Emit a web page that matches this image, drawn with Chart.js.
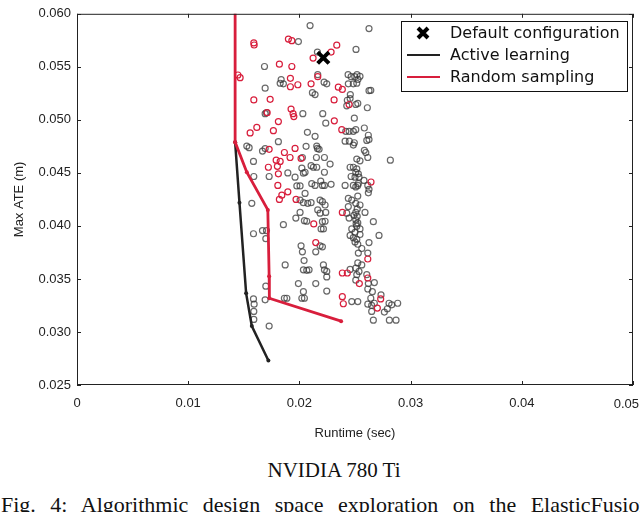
<!DOCTYPE html>
<html>
<head>
<meta charset="utf-8">
<script src="https://cdn.jsdelivr.net/npm/chart.js@4/dist/chart.umd.min.js"></script>
<style>
  body { margin: 0; width: 640px; height: 512px; overflow: hidden; background: #fff; }
  #wrap { position: absolute; left: 0; top: 0; width: 660px; height: 445px; }
  .cap { position: absolute; font-family: "Liberation Serif", serif; font-size: 21px; color: #111; white-space: nowrap; }
</style>
</head>
<body>
<div id="wrap"><canvas id="chart"></canvas></div>
<div class="cap" style="left:0; width:668px; top:458px; text-align:center;">NVIDIA 780 Ti</div>
<div class="cap" style="left:1px; top:492px; font-size:22px; word-spacing:9px;">Fig. 4: Algorithmic design space exploration on the ElasticFusion pipeline</div>
<script>
// axis ticks
const xTicks = [0, 0.01, 0.02, 0.03, 0.04, 0.05]
const yTicks = [0.025, 0.030, 0.035, 0.040, 0.045, 0.050, 0.055, 0.060]

// default configuration (runtime, max ATE)
const defaultConfig = [[0.02215, 0.05586]]

// pareto fronts
const activeFront = [[0.01422, 0.0479], [0.01461, 0.04219], [0.01521, 0.03364], [0.01572, 0.03056], [0.01721, 0.02731]]
const randomFront = [[0.01422, 0.0615], [0.01422, 0.0479], [0.01527, 0.04506], [0.01716, 0.04151], [0.01728, 0.03525], [0.01730, 0.03318], [0.02375, 0.03102]]

// sampled configurations, active learning (gray)
const activeSamples = [
  [0.02096,0.05889],[0.02626,0.05861],[0.01991,0.05738],[0.02509,0.05664],[0.02162,0.05639],[0.01686,0.05503],[0.02165,0.05426],[0.02438,0.05426],
  [0.02465,0.05407],[0.02498,0.05407],[0.02518,0.05426],[0.02545,0.05410],[0.02527,0.05382],[0.01836,0.05380],[0.01827,0.05345],[0.01856,0.05340],
  [0.02222,0.05355],[0.02246,0.05340],[0.02440,0.05340],[0.02485,0.05340],[0.02516,0.05345],[0.01692,0.05299],[0.02117,0.05256],[0.02141,0.05238],
  [0.02458,0.05238],[0.02626,0.05275],[0.02642,0.05278],[0.02431,0.05185],[0.02456,0.05201],[0.02426,0.05132],[0.02507,0.05145],[0.02525,0.05155],
  [0.02611,0.05114],[0.02494,0.05016],[0.02031,0.05058],[0.02210,0.05058],[0.01692,0.05058],[0.01704,0.05068],[0.02237,0.04969],
  [0.01527,0.04753],[0.01548,0.04738],[0.01811,0.04794],[0.01668,0.04706],[0.01692,0.04729],[0.01587,0.04608],[0.01590,0.04466],[0.01728,0.04466],
  [0.02060,0.04750],[0.02141,0.04845],[0.02156,0.04753],[0.02162,0.04731],[0.02177,0.04722],[0.02153,0.04645],[0.02225,0.04645],[0.02027,0.04645],
  [0.02276,0.04583],[0.02105,0.04568],[0.02126,0.04553],[0.02156,0.04553],[0.02022,0.04544],[0.02051,0.04506],[0.02036,0.04497],[0.02225,0.04506],
  [0.01896,0.04500],[0.02072,0.04882],[0.01961,0.04460],[0.01977,0.04377],[0.02006,0.04377],[0.02111,0.04398],[0.02141,0.04382],[0.02192,0.04423],
  [0.02207,0.04382],[0.02225,0.04382],[0.02285,0.04392],[0.02051,0.04306],[0.02006,0.04244],[0.02036,0.04219],[0.02075,0.04213],[0.02105,0.04219],
  [0.02186,0.04244],[0.02207,0.04229],[0.02231,0.04197],[0.02165,0.04151],[0.02006,0.04127],[0.01968,0.04074],[0.02186,0.04120],[0.02237,0.04127],
  [0.02066,0.04044],[0.02045,0.04049],[0.02207,0.04040],[0.02231,0.04044],[0.02195,0.03972],[0.02216,0.03972],[0.01856,0.04012],[0.01668,0.03956],
  [0.01704,0.03956],[0.01572,0.04213],
  [0.02417,0.04892],[0.02447,0.04892],[0.02485,0.04892],[0.02507,0.04907],[0.02584,0.04923],[0.02620,0.04855],[0.02626,0.04815],[0.02606,0.04806],
  [0.02411,0.04799],[0.02449,0.04799],[0.02494,0.04784],[0.02485,0.04762],[0.02584,0.04713],[0.02597,0.04692],[0.02615,0.04645],[0.02516,0.04630],
  [0.02545,0.04614],[0.02456,0.04553],[0.02485,0.04553],[0.02516,0.04537],[0.02507,0.04506],[0.02530,0.04491],[0.02465,0.04466],[0.02500,0.04460],
  [0.02536,0.04460],[0.02581,0.04429],[0.02411,0.04382],[0.02485,0.04382],[0.02507,0.04368],[0.02525,0.04382],[0.02615,0.04382],[0.02626,0.04345],
  [0.02620,0.04312],[0.02440,0.04259],[0.02471,0.04244],[0.02525,0.04281],[0.02507,0.04213],[0.02545,0.04197],[0.02440,0.04182],[0.02426,0.04120],
  [0.02507,0.04127],[0.02590,0.04127],[0.02447,0.04074],[0.02507,0.04058],[0.02525,0.04028],[0.02516,0.03997],[0.02471,0.03972],[0.02545,0.03972],
  [0.02665,0.04040],[0.02818,0.04620],[0.02510,0.04020],[0.02520,0.04090],[0.02500,0.03940],[0.02530,0.04400],[0.02520,0.04160],[0.02490,0.04100],
  [0.01587,0.03926],[0.01698,0.03880],[0.02015,0.03812],[0.02027,0.03756],[0.02147,0.03756],[0.02186,0.03812],[0.02207,0.03803],[0.01872,0.03632],
  [0.02042,0.03673],[0.02216,0.03632],[0.02036,0.03586],[0.02087,0.03586],[0.02066,0.03581],[0.02225,0.03586],[0.02246,0.03571],[0.02246,0.03519],
  [0.01991,0.03456],[0.02147,0.03456],[0.02036,0.03380],[0.02246,0.03386],[0.01865,0.03318],[0.01887,0.03318],[0.02022,0.03318],[0.02045,0.03318],
  [0.01698,0.03432],[0.01692,0.03303],[0.01587,0.03312],[0.01593,0.03262],[0.01590,0.03194],[0.01590,0.03118],[0.01728,0.03056],
  [0.02456,0.03910],[0.02485,0.03889],[0.02516,0.03873],[0.02500,0.03849],[0.02525,0.03827],[0.02545,0.03919],[0.02626,0.03843],[0.02716,0.03910],
  [0.02561,0.03787],[0.02530,0.03744],[0.02615,0.03744],[0.02561,0.03632],[0.02525,0.03651],[0.02507,0.03602],[0.02456,0.03590],[0.02536,0.03571],
  [0.02516,0.03540],[0.02507,0.03488],[0.02606,0.03540],[0.02620,0.03456],[0.02674,0.03466],[0.02615,0.03405],[0.02656,0.03380],[0.02734,0.03349],
  [0.02642,0.03318],[0.02674,0.03271],[0.02806,0.03271],[0.02830,0.03256],[0.02884,0.03271],[0.02471,0.03287],[0.02525,0.03287],[0.02615,0.03262],
  [0.02650,0.03250],[0.02791,0.03219],[0.02764,0.03188],[0.02650,0.03194],[0.02665,0.03111],[0.02809,0.03111],[0.02869,0.03111]
]

// sampled configurations, random sampling (red)
const randomSamples = [
  [0.01590,0.05725],[0.01593,0.05706],[0.01901,0.05762],[0.01932,0.05747],[0.02336,0.05704],[0.02285,0.05639],[0.02123,0.05583],[0.01820,0.05525],
  [0.01932,0.05503],[0.01447,0.05423],[0.01467,0.05398],[0.01919,0.05392],[0.02165,0.05407],[0.01919,0.05312],[0.01986,0.05331],[0.02105,0.05340],
  [0.02350,0.05308],[0.02386,0.05287],[0.01590,0.05188],[0.01737,0.05194],[0.02312,0.05188],[0.01925,0.05102],[0.01943,0.05058],[0.01950,0.05031],
  [0.01710,0.05068],[0.02447,0.05145],[0.01811,0.04984],[0.02314,0.04991],
  [0.01557,0.04877],[0.01617,0.04929],[0.01766,0.04898],[0.01728,0.04722],[0.01865,0.04692],[0.01961,0.04731],[0.01916,0.04645],[0.02015,0.04636],
  [0.01791,0.04620],[0.01827,0.04608],[0.01721,0.04553],[0.01802,0.04562],[0.01811,0.04491],[0.01806,0.04382],[0.01896,0.04321],[0.01842,0.04290],
  [0.01820,0.04250],[0.01970,0.04250],[0.02381,0.04907],[0.02644,0.04414],[0.02386,0.04127],[0.02129,0.04019],
  [0.02147,0.03843],[0.02386,0.03556],[0.02431,0.03556],[0.02615,0.03688],[0.02539,0.03456],[0.02615,0.03509],[0.02386,0.03333],[0.02395,0.03266],
  [0.02731,0.03312],[0.02701,0.03225]
]

const RED = '#d81e3c'
const GRAY = 'rgba(55,55,55,0.75)'
const toPts = arr => arr.map(p => ({x: p[0], y: p[1]}))
const tickFont = '13px "Liberation Sans"'

// box + inward ticks like matplotlib
const frame = {
  id: 'frame',
  afterDatasetsDraw(chart) {
    const ctx = chart.ctx, a = chart.chartArea
    const xs = chart.scales.x, ys = chart.scales.y
    ctx.save()
    ctx.strokeStyle = '#222'
    ctx.lineWidth = 1
    ctx.strokeRect(a.left + 0.5, a.top + 0.5, a.right - a.left - 1, a.bottom - a.top - 1)
    ctx.beginPath()
    xTicks.forEach(v => {
      const px = Math.round(xs.getPixelForValue(v)) + 0.5
      ctx.moveTo(px, a.bottom); ctx.lineTo(px, a.bottom - 4)
      ctx.moveTo(px, a.top); ctx.lineTo(px, a.top + 4)
    })
    yTicks.forEach(v => {
      const py = Math.round(ys.getPixelForValue(v)) + 0.5
      ctx.moveTo(a.left, py); ctx.lineTo(a.left + 4, py)
      ctx.moveTo(a.right, py); ctx.lineTo(a.right - 4, py)
    })
    ctx.stroke()
    // last x label sits against the page edge
    const last = xTicks[xTicks.length - 1]
    ctx.font = tickFont
    ctx.fillStyle = '#222'
    ctx.textAlign = 'right'
    ctx.textBaseline = 'middle'
    ctx.fillText(last.toFixed(2), 639, a.bottom + 19)
    ctx.restore()
  },
  afterDraw(chart) {
    // legend box inside the plot
    const ctx = chart.ctx
    const bx = 401, by = 21, bw = 226, bh = 70
    ctx.save()
    ctx.fillStyle = '#fff'
    ctx.fillRect(bx, by, bw, bh)
    ctx.strokeStyle = '#111'
    ctx.lineWidth = 1
    ctx.strokeRect(bx + 0.5, by + 0.5, bw, bh)
    const items = chart.data.datasets.filter(d => d.legendRank).sort((p, q) => p.legendRank - q.legendRank)
    ctx.font = '16px "DejaVu Sans"'
    ctx.textBaseline = 'middle'
    items.forEach((d, i) => {
      const cy = by + 12 + i * 22
      ctx.strokeStyle = d.borderColor
      if (d.pointStyle === 'crossRot') {
        ctx.lineWidth = 4
        ctx.beginPath()
        ctx.moveTo(418, cy - 5); ctx.lineTo(428, cy + 5)
        ctx.moveTo(428, cy - 5); ctx.lineTo(418, cy + 5)
        ctx.stroke()
      } else {
        ctx.lineWidth = 2
        ctx.beginPath()
        ctx.moveTo(407, cy); ctx.lineTo(440, cy)
        ctx.stroke()
      }
      ctx.fillStyle = '#111'
      ctx.fillText(d.label, 450, cy + 1)
    })
    ctx.restore()
  }
}

new Chart(document.getElementById('chart'), {
  type: 'scatter',
  data: {
    datasets: [
      {
        label: 'Default configuration', legendRank: 1, data: toPts(defaultConfig),
        pointStyle: 'crossRot', pointRadius: 8, borderWidth: 4, borderColor: '#000', backgroundColor: '#000'
      },
      {
        label: 'Random sampling', legendRank: 3, data: toPts(randomFront), showLine: true,
        borderColor: RED, backgroundColor: RED, borderWidth: 2.8, pointRadius: 2, pointBorderWidth: 0, clip: 0
      },
      {
        label: 'Active learning', legendRank: 2, data: toPts(activeFront), showLine: true,
        borderColor: '#222', backgroundColor: '#222', borderWidth: 2.5, pointRadius: 2, pointBorderWidth: 0
      },
      {
        label: 'random', data: toPts(randomSamples), pointRadius: 3, borderWidth: 1.2,
        borderColor: RED, backgroundColor: 'rgba(0,0,0,0)'
      },
      {
        label: 'active', data: toPts(activeSamples), pointRadius: 3, borderWidth: 1.2,
        borderColor: GRAY, backgroundColor: 'rgba(0,0,0,0)'
      }
    ]
  },
  options: {
    responsive: true,
    maintainAspectRatio: false,
    animation: false,
    events: [],
    layout: { padding: { top: 7, right: 27, left: 0, bottom: 0 } },
    plugins: { legend: { display: false }, tooltip: { enabled: false } },
    scales: {
      x: {
        type: 'linear', min: 0, max: 0.05,
        afterBuildTicks: s => { s.ticks = xTicks.map(v => ({value: v})) },
        afterFit: s => { s.height = 60 },
        grid: { display: false, drawTicks: false },
        border: { display: false },
        ticks: {
          padding: 11, color: '#222', font: { family: 'Liberation Sans', size: 13 },
          callback: v => v === 0 ? '0' : (v === xTicks[xTicks.length - 1] ? '' : v.toFixed(2))
        },
        title: { display: true, text: 'Runtime (sec)', color: '#222', font: { family: 'Liberation Sans', size: 13 }, padding: { top: 4 } }
      },
      y: {
        type: 'linear', min: 0.025, max: 0.060,
        afterBuildTicks: s => { s.ticks = yTicks.map(v => ({value: v})) },
        afterFit: s => { s.width = 77 },
        grid: { display: false, drawTicks: false },
        border: { display: false },
        ticks: {
          padding: 6, color: '#222', font: { family: 'Liberation Sans', size: 13 },
          callback: v => v.toFixed(3)
        },
        title: { display: true, text: 'Max ATE (m)', color: '#222', font: { family: 'Liberation Sans', size: 13 }, padding: { bottom: 0, top: 12 } }
      }
    }
  },
  plugins: [frame]
})
</script>
</body>
</html>
